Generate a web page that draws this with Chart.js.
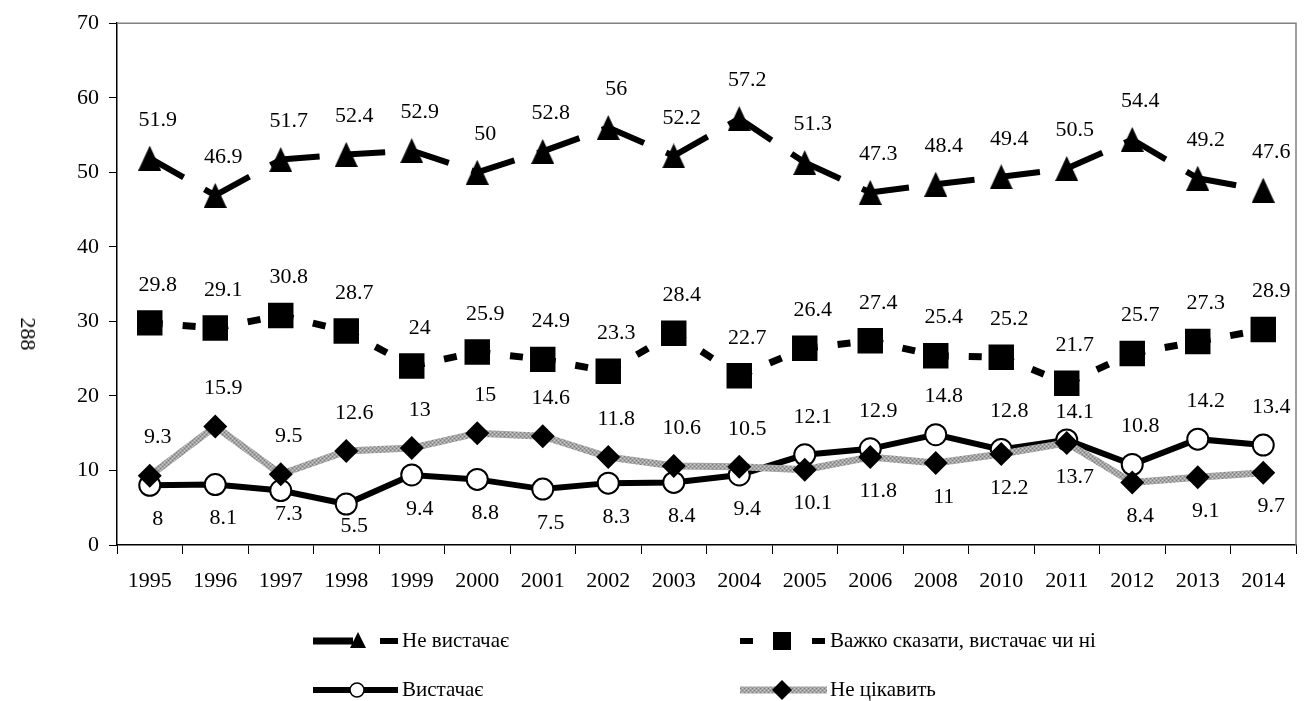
<!DOCTYPE html>
<html>
<head>
<meta charset="utf-8">
<script src="https://cdn.jsdelivr.net/npm/chart.js@4/dist/chart.umd.min.js"></script>
<style>
html,body{margin:0;padding:0;background:#fff;}
#wrap{position:relative;width:1314px;height:701px;}
#page{position:absolute;left:28px;top:334px;font:22px "Liberation Serif",serif;color:#000;transform:translate(-50%,-50%) rotate(90deg);white-space:nowrap;}
</style>
</head>
<body>
<div id="wrap">
<canvas id="c" width="1314" height="701"></canvas>
<div id="page">288</div>
</div>
<script>
// ---- data ----
const years = ['1995','1996','1997','1998','1999','2000','2001','2002','2003','2004','2005','2006','2008','2010','2011','2012','2013','2014'];
const notEnough = [51.9,46.9,51.7,52.4,52.9,50,52.8,56,52.2,57.2,51.3,47.3,48.4,49.4,50.5,54.4,49.2,47.6];
const hardToSay = [29.8,29.1,30.8,28.7,24,25.9,24.9,23.3,28.4,22.7,26.4,27.4,25.4,25.2,21.7,25.7,27.3,28.9];
const enough    = [8,8.1,7.3,5.5,9.4,8.8,7.5,8.3,8.4,9.4,12.1,12.9,14.8,12.8,14.1,10.8,14.2,13.4];
const notCare   = [9.3,15.9,9.5,12.6,13,15,14.6,11.8,10.6,10.5,10.1,11.8,11,12.2,13.7,8.4,9.1,9.7];
const seriesNames = ['Не вистачає','Важко сказати, вистачає чи ні','Вистачає','Не цікавить'];
const yTicks = [0,10,20,30,40,50,60,70];

// ---- label placement (style: vertical offset of each value label in px) ----
const A = -38, B = 34;
const labelDyNotEnough = Array(18).fill(A);
const labelDyHard      = Array(18).fill(A);
const labelDyEnough    = [B,B,24,22,B,B,B,B,B,B,A,A,A,A,-28,A,A,A];
const labelDyNotCare   = [A,A,A,A,A,A,A,A,A,A,B,B,B,B,B,B,B,B];
const labelDys = [labelDyNotEnough, labelDyHard, labelDyEnough, labelDyNotCare];

const FONT = '"Liberation Serif", "Times New Roman", serif';

function triCanvas(w,h){
  const c=document.createElement('canvas');c.width=w;c.height=h;
  const x=c.getContext('2d');x.fillStyle='#000';x.beginPath();
  x.moveTo(w/2,0);x.lineTo(w,h);x.lineTo(0,h);x.closePath();x.fill();return c;
}
function grayPattern(){
  const c=document.createElement('canvas');c.width=4;c.height=4;
  const x=c.getContext('2d');
  x.fillStyle='#a4a4a4';x.fillRect(0,0,4,4);
  x.fillStyle='#7c7c7c';x.fillRect(0,0,1,1);x.fillRect(2,2,1,1);
  x.fillStyle='#cfcfcf';x.fillRect(2,0,1,1);x.fillRect(0,2,1,1);
  return x.createPattern(c,'repeat');
}
const grayPat = grayPattern();
const restart = {borderDashOffset: ctx => (ctx.p0DataIndex % 2) * 0.001};

const framePlugin = {
  id:'frame',
  beforeDatasetsDraw(chart){
    const {ctx, chartArea:a} = chart;
    ctx.save();
    ctx.strokeStyle='#808080';ctx.lineWidth=1.5;
    ctx.beginPath();ctx.moveTo(a.left,a.top);ctx.lineTo(a.right,a.top);ctx.lineTo(a.right,a.bottom);ctx.stroke();
    ctx.restore();
  }
};

const labelPlugin = {
  id:'vlabels',
  afterDatasetsDraw(chart){
    const ctx = chart.ctx;
    ctx.save();
    ctx.font = '22px ' + FONT;
    ctx.fillStyle = '#000';
    ctx.textAlign = 'center';
    ctx.textBaseline = 'middle';
    chart.data.datasets.forEach((ds, di) => {
      const meta = chart.getDatasetMeta(di);
      meta.data.forEach((pt, i) => {
        ctx.fillText(String(ds.data[i]), pt.x + 8, pt.y + labelDys[di][i]);
      });
    });
    ctx.restore();
  }
};

const legendPlugin = {
  id:'customLegend',
  afterDraw(chart){
    const ctx = chart.ctx;
    ctx.save();
    const r1 = 641, r2 = 690;
    // 1: Не вистачає
    ctx.fillStyle='#000';
    ctx.fillRect(313, r1-3.5, 40, 7);
    ctx.beginPath();ctx.moveTo(358,r1-9);ctx.lineTo(366,r1+7);ctx.lineTo(350,r1+7);ctx.closePath();ctx.fill();
    ctx.fillRect(380, r1-3, 18, 6);
    // 2: Важко сказати
    ctx.fillRect(740, r1-3, 13, 6);
    ctx.fillRect(773, r1-9, 18, 18);
    ctx.fillRect(812, r1-3, 13, 6);
    // 3: Вистачає
    ctx.fillRect(313, r2-3, 85, 6);
    ctx.beginPath();ctx.arc(357, r2, 7, 0, Math.PI*2);ctx.fillStyle='#fff';ctx.fill();
    ctx.lineWidth=1.5;ctx.strokeStyle='#000';ctx.stroke();
    // 4: Не цікавить
    ctx.fillStyle=grayPat;
    ctx.fillRect(740, r2-3.5, 87, 7);
    ctx.fillStyle='#000';
    ctx.beginPath();ctx.moveTo(772,r2);ctx.lineTo(782,r2-10);ctx.lineTo(792,r2);ctx.lineTo(782,r2+10);ctx.closePath();ctx.fill();
    // texts
    ctx.font = '21px ' + FONT;
    ctx.textBaseline='middle';ctx.textAlign='left';ctx.fillStyle='#000';
    ctx.fillText(seriesNames[0], 402, r1);
    ctx.fillText(seriesNames[1], 830, r1);
    ctx.fillText(seriesNames[2], 402, r2);
    ctx.fillText(seriesNames[3], 830, r2);
    ctx.restore();
  }
};

new Chart(document.getElementById('c'), {
  type:'line',
  data:{
    labels: years,
    datasets:[
      {label:seriesNames[0], data:notEnough, borderColor:'#000', borderWidth:6, borderDash:[39,24], segment:restart,
       pointStyle:triCanvas(23,25), pointRadius:12, backgroundColor:'#000', borderCapStyle:'butt', order:4},
      {label:seriesNames[1], data:hardToSay, borderColor:'#000', borderWidth:7, borderDash:[13,20], segment:restart,
       pointStyle:'rect', pointRadius:18, pointBackgroundColor:'#000', pointBorderWidth:0, borderCapStyle:'butt', order:3},
      {label:seriesNames[2], data:enough, borderColor:'#000', borderWidth:6, pointStyle:'circle', pointRadius:10.5,
       pointBackgroundColor:'#fff', pointBorderColor:'#000', pointBorderWidth:2, order:2},
      {label:seriesNames[3], data:notCare, borderColor:grayPat, borderWidth:7, pointStyle:'rectRot', pointRadius:12,
       pointBackgroundColor:'#000', pointBorderColor:'#000', pointBorderWidth:0, order:1}
    ]
  },
  options:{
    responsive:false, animation:false, devicePixelRatio:1,
    layout:{padding:{top:20,right:1,left:0,bottom:0}},
    elements:{line:{tension:0}},
    plugins:{legend:{display:false}, tooltip:{enabled:false}},
    scales:{
      x:{
        offset:true,
        grid:{offset:true, drawOnChartArea:false, tickLength:9, color:'#000', lineWidth:1},
        border:{color:'#000', width:1.5},
        ticks:{font:{family:FONT,size:22}, color:'#000', padding:14, maxRotation:0, autoSkip:false},
        afterFit(s){ s.height = 156; }
      },
      y:{
        min:0, max:70,
        afterBuildTicks(s){ s.ticks = yTicks.map(v=>({value:v})); },
        grid:{drawOnChartArea:false, tickLength:8, color:'#000', lineWidth:1},
        border:{color:'#000', width:1.5},
        ticks:{font:{family:FONT,size:22}, color:'#000', padding:10},
        afterFit(s){ s.width = 117; }
      }
    }
  },
  plugins:[framePlugin, labelPlugin, legendPlugin]
});
</script>
</body>
</html>
